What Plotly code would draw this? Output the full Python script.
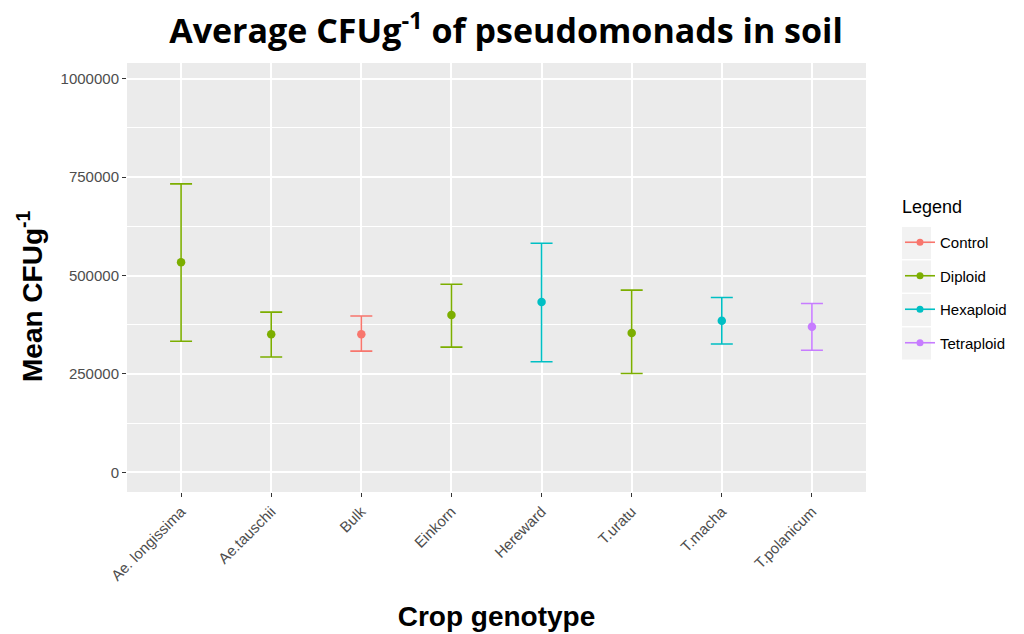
import plotly.graph_objects as go

genotypes = ["Ae. longissima", "Ae.tauschii", "Bulk", "Einkorn", "Hereward", "T.uratu", "T.macha", "T.polanicum"]
groups = ["Diploid", "Diploid", "Control", "Diploid", "Hexaploid", "Diploid", "Hexaploid", "Tetraploid"]
mean_cfu = [534000, 351000, 351000, 400000, 433000, 354000, 385000, 370000]
upper_cfu = [733000, 407000, 397000, 478000, 582000, 463000, 444000, 429000]
lower_cfu = [333000, 293000, 308000, 318000, 281000, 251000, 326000, 310000]

group_order = ["Control", "Diploid", "Hexaploid", "Tetraploid"]
colors = {"Control": "#F8766D", "Diploid": "#7CAE00", "Hexaploid": "#00BFC4", "Tetraploid": "#C77CFF"}

fig = go.Figure()

for g in group_order:
    idx = [i for i, gg in enumerate(groups) if gg == g]
    xs = [genotypes[i] for i in idx]
    ys = [mean_cfu[i] for i in idx]
    plus = [upper_cfu[i] - mean_cfu[i] for i in idx]
    minus = [mean_cfu[i] - lower_cfu[i] for i in idx]
    fig.add_trace(go.Scatter(
        x=xs, y=ys, mode="markers", name=g, showlegend=False,
        marker=dict(color=colors[g], size=8.5),
        error_y=dict(type="data", symmetric=False, array=plus, arrayminus=minus,
                     color=colors[g], thickness=1.6, width=11),
    ))
    # legend key (line + dot)
    fig.add_trace(go.Scatter(
        x=[None], y=[None], mode="lines+markers", name=g, legendgroup=g,
        line=dict(color=colors[g], width=1.6), marker=dict(color=colors[g], size=7),
    ))

# grey key backgrounds behind legend symbols (ggplot style)
plot_top, plot_h = 55, 429
for k in range(len(group_order)):
    cy = 235 + k * 33.5
    fig.add_shape(type="rect", xref="paper", yref="paper", layer="below",
                  x0=(894 - 119) / 739, x1=(923 - 119) / 739,
                  y0=1 - (cy + 16 - plot_top) / plot_h, y1=1 - (cy - 16 - plot_top) / plot_h,
                  fillcolor="#F2F2F2", line=dict(width=0))

fig.add_annotation(text="Legend", xref="paper", yref="paper",
                   x=(892 - 119) / 739, y=1 - (199 - plot_top) / plot_h,
                   xanchor="left", yanchor="middle", showarrow=False,
                   font=dict(size=18, color="black"))

# y axis title placed like the ggplot output
fig.add_annotation(text="<b>Mean CFUg<sup>-1</sup></b>", xref="paper", yref="paper",
                   x=(22 - 119) / 739, y=1 - (288 - plot_top) / plot_h,
                   xanchor="center", yanchor="middle", textangle=-90, showarrow=False,
                   font=dict(family="Liberation Sans, Arial", size=28, color="black"))

fig.update_layout(
    width=1024, height=634,
    paper_bgcolor="white", plot_bgcolor="#EBEBEB",
    margin=dict(l=119, r=166, t=55, b=150),
    title=dict(text="<b>Average CFUg<sup>-1</sup> of pseudomonads in soil</b>",
               x=498 / 1024, xanchor="center", y=1 - 23 / 634, yanchor="middle",
               font=dict(family="Open Sans", size=34, color="black")),
    font=dict(family="Liberation Sans, Arial", color="#4D4D4D"),
    legend=dict(
        x=(892 - 119) / 739, xanchor="left", y=1 - (218 - plot_top) / plot_h, yanchor="top",
        font=dict(size=15, color="black"), tracegroupgap=11,
        bgcolor="rgba(0,0,0,0)",
    ),
    showlegend=True,
)

fig.update_xaxes(
    categoryorder="array", categoryarray=genotypes,
    range=[-0.6, 7.6], showgrid=True, gridcolor="white", gridwidth=1.5,
    ticks="outside", ticklen=4, tickcolor="#333333", tickangle=-45,
    tickfont=dict(size=15, color="#4D4D4D"), zeroline=False,
    title=dict(text="<b>Crop genotype</b>", font=dict(size=28, color="black"), standoff=23),
)
fig.update_yaxes(
    range=[-50000, 1040000], tickvals=[0, 250000, 500000, 750000, 1000000],
    ticktext=["0", "250000", "500000", "750000", "1000000"],
    showgrid=True, gridcolor="white", gridwidth=1.5, zeroline=False,
    minor=dict(tickvals=[125000, 375000, 625000, 875000], showgrid=True,
               gridcolor="white", gridwidth=0.7, ticks=""),
    ticks="outside", ticklen=4, tickcolor="#333333",
    tickfont=dict(size=15, color="#4D4D4D"),
)

fig.write_html("out.html")
